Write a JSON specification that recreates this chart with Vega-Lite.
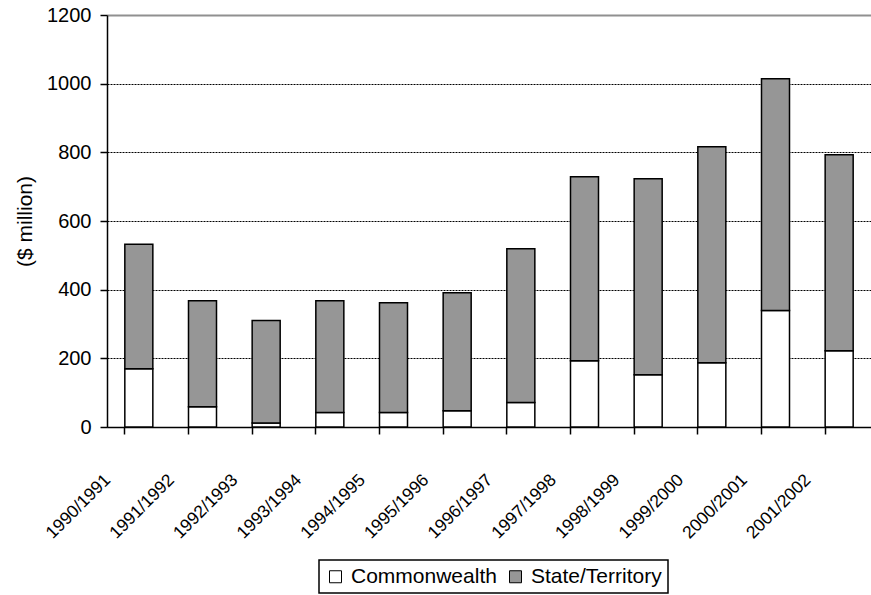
{
  "$schema": "https://vega.github.io/schema/vega-lite/v6.json",
  "width": 764,
  "height": 412,
  "autosize": "none",
  "padding": {"left": 107, "top": 15, "right": 0, "bottom": 168},
  "background": "white",
  "config": {
    "view": {"stroke": null},
    "font": "Liberation Sans"
  },
  "data": {
    "values": [
      {"year": "1990/1991", "source": "Commonwealth", "ord": 1, "value": 170},
      {"year": "1990/1991", "source": "State/Territory", "ord": 2, "value": 362},
      {"year": "1991/1992", "source": "Commonwealth", "ord": 1, "value": 59},
      {"year": "1991/1992", "source": "State/Territory", "ord": 2, "value": 309},
      {"year": "1992/1993", "source": "Commonwealth", "ord": 1, "value": 12},
      {"year": "1992/1993", "source": "State/Territory", "ord": 2, "value": 298},
      {"year": "1993/1994", "source": "Commonwealth", "ord": 1, "value": 42},
      {"year": "1993/1994", "source": "State/Territory", "ord": 2, "value": 326},
      {"year": "1994/1995", "source": "Commonwealth", "ord": 1, "value": 42},
      {"year": "1994/1995", "source": "State/Territory", "ord": 2, "value": 320},
      {"year": "1995/1996", "source": "Commonwealth", "ord": 1, "value": 47},
      {"year": "1995/1996", "source": "State/Territory", "ord": 2, "value": 344},
      {"year": "1996/1997", "source": "Commonwealth", "ord": 1, "value": 71},
      {"year": "1996/1997", "source": "State/Territory", "ord": 2, "value": 448},
      {"year": "1997/1998", "source": "Commonwealth", "ord": 1, "value": 193},
      {"year": "1997/1998", "source": "State/Territory", "ord": 2, "value": 536},
      {"year": "1998/1999", "source": "Commonwealth", "ord": 1, "value": 152},
      {"year": "1998/1999", "source": "State/Territory", "ord": 2, "value": 571},
      {"year": "1999/2000", "source": "Commonwealth", "ord": 1, "value": 187},
      {"year": "1999/2000", "source": "State/Territory", "ord": 2, "value": 629},
      {"year": "2000/2001", "source": "Commonwealth", "ord": 1, "value": 339},
      {"year": "2000/2001", "source": "State/Territory", "ord": 2, "value": 675},
      {"year": "2001/2002", "source": "Commonwealth", "ord": 1, "value": 222},
      {"year": "2001/2002", "source": "State/Territory", "ord": 2, "value": 571}
    ]
  },
  "mark": {"type": "bar", "stroke": "black", "strokeWidth": 1.5},
  "encoding": {
    "x": {
      "field": "year",
      "type": "nominal",
      "sort": null,
      "scale": {"paddingInner": 0.56, "paddingOuter": 0.28},
      "axis": {
        "title": null,
        "bandPosition": 0,
        "domainColor": "black",
        "domainWidth": 1.5,
        "tickColor": "black",
        "tickWidth": 1.5,
        "tickSize": 7,
        "labelAngle": -45,
        "labelAlign": "right",
        "labelBaseline": "middle",
        "labelPadding": 43,
        "labelOffset": -31,
        "labelFont": "Liberation Sans",
        "labelFontSize": 17.5,
        "labelColor": "black"
      }
    },
    "y": {
      "field": "value",
      "type": "quantitative",
      "stack": "zero",
      "scale": {"domain": [0, 1200], "nice": false},
      "axis": {
        "title": "($ million)",
        "titleFont": "Liberation Sans",
        "titleFontSize": 21,
        "titleFontWeight": "normal",
        "titleColor": "black",
        "titlePadding": 11,
        "values": [0, 200, 400, 600, 800, 1000, 1200],
        "format": "d",
        "domainColor": "black",
        "domainWidth": 1.5,
        "tickColor": "black",
        "tickWidth": 1.5,
        "tickSize": 7,
        "labelPadding": 9,
        "labelFont": "Liberation Sans",
        "labelFontSize": 20,
        "labelColor": "black",
        "grid": true,
        "gridColor": {"condition": {"test": "datum.value == 1200", "value": "#909090"}, "value": "black"},
        "gridDash": {"condition": {"test": "datum.value == 1200", "value": []}, "value": [2, 1]},
        "gridWidth": {"condition": {"test": "datum.value == 1200", "value": 2}, "value": 1}
      }
    },
    "color": {
      "field": "source",
      "type": "nominal",
      "scale": {"domain": ["Commonwealth", "State/Territory"], "range": ["white", "#969696"]},
      "legend": {
        "title": null,
        "orient": "none",
        "direction": "horizontal",
        "legendX": 212,
        "legendY": 545,
        "strokeColor": "black",
        "padding": 6,
        "symbolType": "square",
        "symbolSize": 144,
        "symbolStrokeColor": "black",
        "symbolStrokeWidth": 1,
        "symbolOpacity": 1,
        "labelFont": "Liberation Sans",
        "labelFontSize": 21,
        "labelColor": "black",
        "labelOffset": 5,
        "columnPadding": 8,
        "encode": {"legend": {"update": {"strokeWidth": {"value": 1.5}}}}
      }
    },
    "order": {"field": "ord", "type": "quantitative"}
  }
}
